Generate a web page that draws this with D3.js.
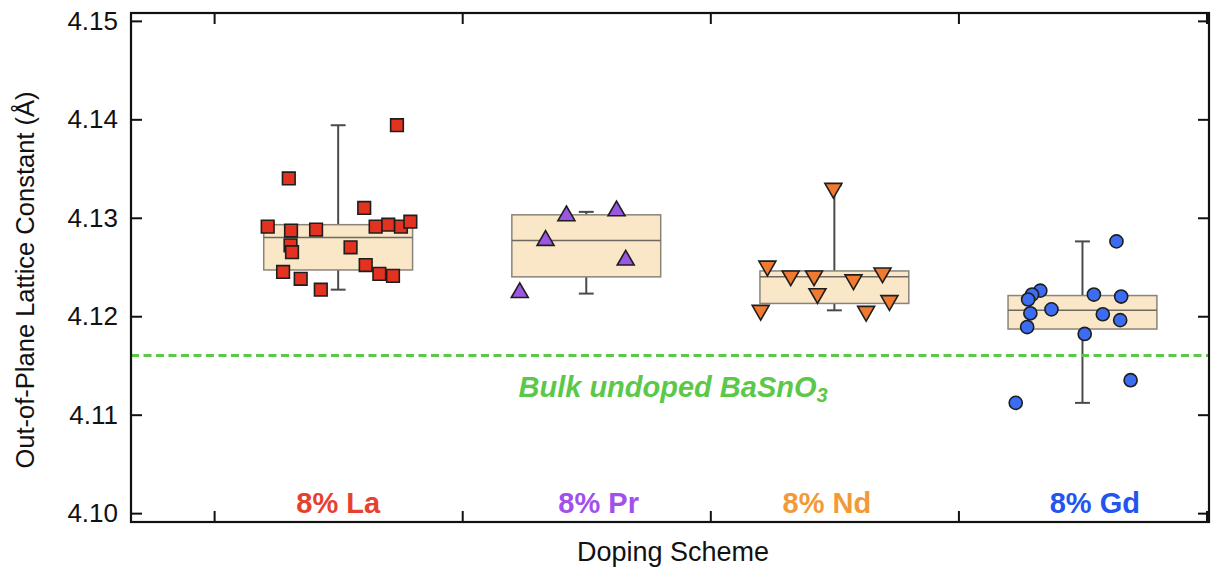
<!DOCTYPE html>
<html>
<head>
<meta charset="utf-8">
<script src="https://cdn.jsdelivr.net/npm/d3@7"></script>
<style>
    body { margin: 0; background: #fff; }
    svg { display: block; font-family: "Liberation Sans", Arial, sans-serif; }
</style>
</head>
<body>
<div id="chart"></div>
<script>
// categories and their positions on the x axis
const categories = ['8% La', '8% Pr', '8% Nd', '8% Gd'];
const catPos = [1.5, 2.5, 3.5, 4.5];
// where the coloured category names sit (not exactly centred in the original)
const labelPos = [1.5, 2.55, 3.47, 4.55];

// box stats: [whiskerLow, q1, median, q3, whiskerHigh]
const boxLa = [4.1227, 4.1247, 4.1280, 4.1293, 4.1394];
const boxPr = [4.1223, 4.1240, 4.1277, 4.1303, 4.1306];
const boxNd = [4.1206, 4.1213, 4.1240, 4.1246, 4.1333];
const boxGd = [4.1112, 4.1187, 4.1206, 4.1221, 4.1276];

// individual measurements (lattice constant) and their horizontal jitter
const valLa = [4.1291, 4.1340, 4.1287, 4.1288, 4.1272, 4.1265, 4.1245, 4.1238, 4.1227, 4.1270,
               4.1310, 4.1252, 4.1291, 4.1293, 4.1291, 4.1296, 4.1243, 4.1241, 4.1394];
const jitLa = [-0.284, -0.199, -0.190, -0.089, -0.192, -0.186, -0.222, -0.151, -0.070, 0.050,
               0.105, 0.111, 0.151, 0.202, 0.253, 0.291, 0.166, 0.221, 0.237];
const valPr = [4.1224, 4.1277, 4.1302, 4.1307, 4.1257];
const jitPr = [-0.268, -0.164, -0.080, 0.122, 0.159];
const valNd = [4.1330, 4.1251, 4.1241, 4.1241, 4.1223, 4.1237, 4.1244, 4.1216, 4.1206, 4.1205];
const jitNd = [-0.004, -0.270, -0.176, -0.082, -0.068, 0.077, 0.194, 0.222, -0.297, 0.128];
const valGd = [4.1276, 4.1226, 4.1222, 4.1217, 4.1203, 4.1207, 4.1189, 4.1222, 4.1220, 4.1202,
               4.1196, 4.1182, 4.1135, 4.1112];
const jitGd = [0.137, -0.170, -0.203, -0.219, -0.210, -0.125, -0.223, 0.046, 0.156, 0.082,
               0.152, 0.009, 0.194, -0.269];

const bulkValue = 4.116;
const yTicks = [4.10, 4.11, 4.12, 4.13, 4.14, 4.15];
const xTicks = [1, 2, 3, 4, 5];

const groups = [
    { name: categories[0], pos: catPos[0], lpos: labelPos[0], box: boxLa, vals: valLa, jit: jitLa, shape: 'square', fill: '#e3321f', label: '#e8402f' },
    { name: categories[1], pos: catPos[1], lpos: labelPos[1], box: boxPr, vals: valPr, jit: jitPr, shape: 'up', fill: '#9b57e3', label: '#a24ff0' },
    { name: categories[2], pos: catPos[2], lpos: labelPos[2], box: boxNd, vals: valNd, jit: jitNd, shape: 'down', fill: '#f07a30', label: '#f29a38' },
    { name: categories[3], pos: catPos[3], lpos: labelPos[3], box: boxGd, vals: valGd, jit: jitGd, shape: 'circle', fill: '#3c6cf2', label: '#2255f0' }
];

const w = 1214, h = 572;
const margin = { top: 13, right: 5, bottom: 50, left: 131 };

const svg = d3.select('#chart').append('svg')
    .attr('width', w)
    .attr('height', h);

const x = d3.scaleLinear()
    .domain([0.665, 5.01])
    .range([margin.left, w - margin.right]);

const y = d3.scaleLinear()
    .domain([4.0991, 4.1508])
    .range([h - margin.bottom, margin.top]);

const x0 = x.range()[0], x1 = x.range()[1];
const y0 = y.range()[0], y1 = y.range()[1];

// boxes
const boxW = x(0.6) - x(0);
const capW = x(0.06) - x(0);
groups.forEach(g => {
    const cx = x(g.pos);
    const b = g.box;
    // whiskers
    svg.append('line')
        .attr('x1', cx).attr('x2', cx)
        .attr('y1', y(b[3])).attr('y2', y(b[4]))
        .attr('stroke', '#4a4a4a').attr('stroke-width', 2);
    svg.append('line')
        .attr('x1', cx).attr('x2', cx)
        .attr('y1', y(b[0])).attr('y2', y(b[1]))
        .attr('stroke', '#4a4a4a').attr('stroke-width', 2);
    [b[0], b[4]].forEach(v => {
        svg.append('line')
            .attr('x1', cx - capW / 2).attr('x2', cx + capW / 2)
            .attr('y1', y(v)).attr('y2', y(v))
            .attr('stroke', '#4a4a4a').attr('stroke-width', 2);
    });
    svg.append('rect')
        .attr('x', cx - boxW / 2)
        .attr('y', y(b[3]))
        .attr('width', boxW)
        .attr('height', y(b[1]) - y(b[3]))
        .attr('fill', '#f9e7c8')
        .attr('stroke', '#8a8478')
        .attr('stroke-width', 1.5);
    svg.append('line')
        .attr('x1', cx - boxW / 2).attr('x2', cx + boxW / 2)
        .attr('y1', y(b[2])).attr('y2', y(b[2]))
        .attr('stroke', '#6e685e').attr('stroke-width', 1.5);
});

// bulk reference line
svg.append('line')
    .attr('x1', x0).attr('x2', x1)
    .attr('y1', y(bulkValue)).attr('y2', y(bulkValue))
    .attr('stroke', '#5cc84a')
    .attr('stroke-width', 3)
    .attr('stroke-dasharray', '8,4.5');

const bulkText = svg.append('text')
    .attr('x', x(2.85))
    .attr('y', y(bulkValue) + 41)
    .attr('text-anchor', 'middle')
    .attr('fill', '#5cc84a')
    .attr('font-size', 29)
    .attr('font-weight', 'bold')
    .attr('font-style', 'italic')
    .text('Bulk undoped BaSnO');
bulkText.append('tspan')
    .attr('font-size', 20)
    .attr('dy', 5)
    .text('3');

// data points
const sym = {
    square: d3.symbol().type(d3.symbolSquare).size(160),
    circle: d3.symbol().type(d3.symbolCircle).size(135),
    up: d3.symbol().type(d3.symbolTriangle).size(125),
    down: d3.symbol().type(d3.symbolTriangle).size(125)
};
groups.forEach(g => {
    svg.selectAll(null)
        .data(g.vals)
        .enter()
        .append('path')
        .attr('d', sym[g.shape])
        .attr('transform', (d, i) => {
            let t = 'translate(' + x(g.pos + g.jit[i]) + ',' + y(d) + ')';
            if (g.shape === 'down') t += ' rotate(180)';
            return t;
        })
        .attr('fill', g.fill)
        .attr('stroke', '#1e1e1e')
        .attr('stroke-width', 1.6);
});

// category labels
svg.selectAll('.cat')
    .data(groups)
    .enter()
    .append('text')
    .attr('class', 'cat')
    .attr('x', d => x(d.lpos))
    .attr('y', y0 - 9)
    .attr('text-anchor', 'middle')
    .attr('font-size', 29)
    .attr('font-weight', 'bold')
    .attr('fill', d => d.label)
    .text(d => d.name);

// frame with mirrored ticks
const tickLen = 11;
svg.append('g')
    .attr('transform', 'translate(' + x0 + ',0)')
    .call(d3.axisLeft(y).tickValues(yTicks).tickFormat(d3.format('.2f')).tickSizeInner(-tickLen).tickSizeOuter(0).tickPadding(13))
    .call(g => g.select('.domain').remove())
    .call(g => g.selectAll('text').attr('font-size', 26).attr('fill', '#111').attr('font-family', '"Liberation Sans", Arial, sans-serif'));
svg.append('g')
    .attr('transform', 'translate(' + x1 + ',0)')
    .call(d3.axisRight(y).tickValues(yTicks).tickFormat('').tickSizeInner(-tickLen).tickSizeOuter(0))
    .call(g => g.select('.domain').remove());
svg.append('g')
    .attr('transform', 'translate(0,' + y0 + ')')
    .call(d3.axisBottom(x).tickValues(xTicks).tickFormat('').tickSizeInner(-tickLen).tickSizeOuter(0))
    .call(g => g.select('.domain').remove());
svg.append('g')
    .attr('transform', 'translate(0,' + y1 + ')')
    .call(d3.axisTop(x).tickValues(xTicks).tickFormat('').tickSizeInner(-tickLen).tickSizeOuter(0))
    .call(g => g.select('.domain').remove());
svg.selectAll('.tick line').attr('stroke', '#111').attr('stroke-width', 2);

svg.append('rect')
    .attr('x', x0).attr('y', y1)
    .attr('width', x1 - x0).attr('height', y0 - y1)
    .attr('fill', 'none')
    .attr('stroke', '#111')
    .attr('stroke-width', 2.2);

// axis titles
svg.append('text')
    .attr('x', 673)
    .attr('y', h - 11)
    .attr('text-anchor', 'middle')
    .attr('font-size', 27)
    .attr('fill', '#111')
    .text('Doping Scheme');

svg.append('text')
    .attr('transform', 'translate(34,280) rotate(-90)')
    .attr('text-anchor', 'middle')
    .attr('font-size', 25.5)
    .attr('fill', '#111')
    .text('Out-of-Plane Lattice Constant (Å)');
</script>
</body>
</html>
